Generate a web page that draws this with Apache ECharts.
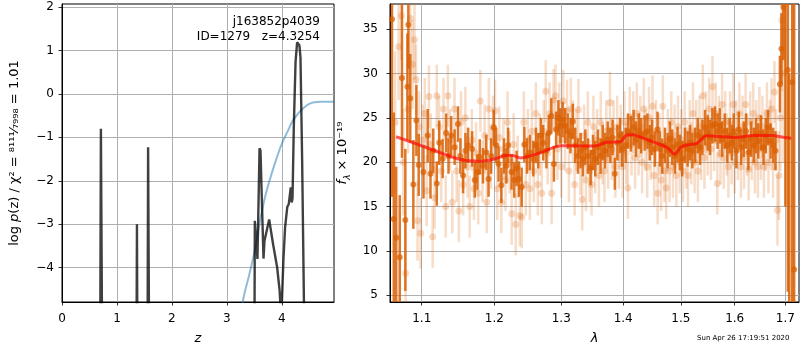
<!DOCTYPE html>
<html><head><meta charset="utf-8">
<script src="https://cdn.jsdelivr.net/npm/echarts@6/dist/echarts.min.js"></script>
<style>html,body{margin:0;padding:0;background:#fff}#c{width:800px;height:350px}</style>
</head><body><div id="c"></div>
<script>
// ---- tick labels ----
const zTicks = [0, 1, 2, 3, 4];
const logpTicks = [-4, -3, -2, -1, 0, 1, 2];
const lamTicks = [1.1, 1.2, 1.3, 1.4, 1.5, 1.6, 1.7];
const fluxTicks = [5, 10, 15, 20, 25, 30, 35];

// ---- left panel: log p(z) ----
const pzZ = [0, 0.69, 0.708, 0.722, 0.74, 1.35, 1.364, 1.378, 1.552, 1.567, 1.578, 1.594,
  3.497, 3.509, 3.52, 3.557, 3.595, 3.612, 3.667, 3.685, 3.71, 3.77, 3.84, 3.915, 3.96, 3.99, 4.03, 4.06, 4.10, 4.126,
  4.15, 4.164, 4.18, 4.195, 4.218, 4.25, 4.279, 4.30, 4.32, 4.34, 4.37, 4.41, 4.45, 4.95];
const pzLogP = [-8, -8, -0.8, -0.82, -8, -8, -3.0, -8, -8, -1.23, -1.25, -8,
  -8, -2.92, -2.95, -3.8, -1.25, -1.3, -3.79, -3.38, -3.35, -2.89, -3.45, -3.99, -4.52, -5.2, -3.8, -3.07, -2.6, -2.54,
  -2.55, -2.15, -2.5, -2.4, -0.79, 0.73, 1.19, 1.22, 1.12, 0.85, -1.5, -5.5, -8, -8];
const cumZ = [3.1, 3.2, 3.3, 3.4, 3.5, 3.6, 3.7, 3.8, 3.9, 4.0, 4.1, 4.2, 4.3, 4.4, 4.5, 4.6, 4.7, 4.8, 4.95];
const cumV = [-6.4, -5.55, -4.72, -4.2, -3.65, -2.95, -2.35, -1.9, -1.5, -1.15, -0.88, -0.62, -0.45, -0.32, -0.23, -0.19, -0.18, -0.18, -0.18];

// ---- right panel: spectrum ----
const modelLam = [1.0667, 1.10, 1.152, 1.179, 1.20, 1.218, 1.227, 1.2375, 1.267, 1.30, 1.319, 1.351, 1.373, 1.395, 1.406, 1.417, 1.428, 1.451, 1.475, 1.489, 1.50, 1.511, 1.529, 1.547, 1.572, 1.60, 1.636, 1.676, 1.689, 1.712];
const modelFlux = [22.87, 21.86, 20.3, 20.1, 20.37, 20.78, 20.75, 20.48, 21.04, 21.86, 21.85, 21.82, 22.24, 22.31, 23.06, 23.1, 22.87, 22.3, 21.68, 20.93, 21.7, 21.95, 22.13, 22.98, 22.9, 22.8, 23.0, 23.0, 22.87, 22.69];

const darkLam = [1.0615, 1.0638, 1.0669, 1.0714, 1.0743, 1.0786, 1.0813, 1.0825, 1.0850, 1.0890, 1.0930, 1.0960,
  1.1023, 1.1079, 1.1116, 1.1153, 1.1200, 1.1233, 1.1279, 1.1326, 1.1358, 1.1395, 1.1442, 1.1488, 1.1521, 1.1558,
  1.1591, 1.1628, 1.1684, 1.1721, 1.1758, 1.1791, 1.1837, 1.1884, 1.1916, 1.1953, 1.1991,
  1.2025, 1.2060, 1.2100, 1.2139, 1.2174, 1.2199, 1.2249, 1.2289, 1.2323, 1.2358, 1.2398, 1.2438, 1.2478, 1.2522,
  1.2572, 1.2612, 1.2647, 1.2687, 1.2721, 1.2771, 1.2806, 1.2846, 1.2886, 1.2920, 1.2955, 1.2985,
  1.3021, 1.3059, 1.3102, 1.3144, 1.3182, 1.3219, 1.3262, 1.3305, 1.3342, 1.3380, 1.3422, 1.3465, 1.3503, 1.3540,
  1.3583, 1.3626, 1.3663, 1.3701, 1.3743, 1.3786, 1.3824, 1.3861, 1.3904, 1.3947, 1.3984,
  1.4041, 1.4082, 1.4129, 1.4176, 1.4218, 1.4265, 1.4306, 1.4365, 1.4412, 1.4453, 1.4494, 1.4541, 1.4588, 1.4629,
  1.4671, 1.4718, 1.4765, 1.4806, 1.4847, 1.4894, 1.4941, 1.4982,
  1.5025, 1.5074, 1.5123, 1.5166, 1.5209, 1.5258, 1.5307, 1.5350, 1.5393, 1.5442, 1.5491, 1.5534, 1.5577, 1.5626,
  1.5675, 1.5718, 1.5761, 1.5810, 1.5859, 1.5902, 1.5945, 1.5982,
  1.6032, 1.6077, 1.6123, 1.6174, 1.6219, 1.6265, 1.6316, 1.6368, 1.6413, 1.6458, 1.6510, 1.6561, 1.6606, 1.6652,
  1.6703, 1.6755, 1.6800, 1.6890, 1.6920, 1.6960, 1.7000, 1.7050, 1.7080, 1.7140, 1.7180];
const darkFlux = [36.1, 13.6, 11.5, 9.3, 29.5, 13.5, 28.5, 35.5, 27.2, 17.5, 24.7, 19.7,
  18.9, 23.0, 18.7, 21.3, 17.6, 22.2, 20.4, 23.3, 20.7, 23.0, 21.7, 24.3, 20.7, 18.5,
  21.3, 21.9, 21.5, 18.0, 18.9, 20.6, 19.6, 21.1, 18.1, 20.7, 23.9,
  21.9, 19.8, 17.4, 20.7, 19.6, 21.9, 18.9, 18.0, 19.3, 18.1, 17.2, 22.0, 20.7, 21.1,
  20.4, 21.9, 21.3, 23.0, 22.2, 21.3, 23.3, 25.2, 19.8, 23.7, 25.0, 24.1,
  24.8, 24.1, 23.5, 23.0, 24.6, 21.9, 20.7, 21.3, 20.4, 21.7, 20.7, 19.4, 21.1, 20.4,
  21.7, 20.7, 22.2, 21.3, 22.6, 21.9, 22.8, 18.7, 22.2, 23.0, 21.5,
  21.9, 23.5, 23.2, 23.9, 22.6, 23.5, 23.0, 23.3, 23.5, 22.2, 22.8, 21.5, 23.7, 21.5,
  20.7, 21.9, 21.3, 22.6, 21.7, 20.7, 22.0, 21.1,
  20.4, 21.9, 21.5, 22.2, 21.3, 21.9, 23.0, 21.7, 22.8, 23.9, 23.3, 22.8, 24.1, 24.3,
  23.5, 24.1, 22.6, 23.5, 21.9, 23.0, 22.2, 23.5,
  21.3, 23.7, 21.7, 22.6, 23.5, 21.1, 22.6, 21.9, 23.0, 22.4, 23.3, 21.7, 23.0, 23.9,
  22.4, 21.9, 21.3, 28.8, 32.8, 37.5, 45.0, 30.4, -10.0, 29.0, 7.9];
const darkErr = [20, 12, 8, 7, 9, 8, 6, 5, 5, 5, 4, 3.5,
  3, 3, 2.8, 2.5, 2.5, 2.5, 2.2, 2.2, 2, 2.2, 2, 2, 2, 2,
  2, 2, 2, 2, 2, 2, 2, 2, 2, 2, 2,
  2, 2, 2, 2, 2, 2, 2, 2, 2, 2, 2.2, 2, 2, 2,
  2, 2, 2, 2, 2, 2, 2, 2, 2, 2, 2, 2,
  2, 2, 2, 2, 2, 2, 2, 2, 2, 2, 2, 2, 2, 2,
  2, 2, 2, 2, 2, 2, 2, 1.8, 2, 2, 2,
  2, 2, 2, 2, 2, 2, 2, 2, 2, 2, 2, 2, 2, 2,
  2, 2, 2, 2, 2, 2, 2, 2,
  2, 2, 2, 2, 2, 2, 2, 2, 2, 2, 2, 2, 2, 2,
  2, 2, 2, 2, 2, 2, 2, 2,
  2, 2, 2, 2, 2, 2, 2, 2, 2, 2, 2, 2, 2, 2,
  2, 2, 2.2, 3.2, 4, 6, 30, 25, 40, 40, 40];

const lightLam = [1.0655, 1.0700, 1.0735, 1.0760, 1.0790, 1.0820, 1.0850, 1.0880, 1.0905, 1.0925, 1.0945, 1.0965, 1.0985,
  1.1010, 1.1040, 1.1065, 1.1095, 1.1120, 1.1145, 1.1170, 1.1200, 1.1230, 1.1260, 1.1290, 1.1320, 1.1350, 1.1380,
  1.1410, 1.1440, 1.1470, 1.1500, 1.1530, 1.1560, 1.1590, 1.1620, 1.1650, 1.1680, 1.1710, 1.1740, 1.1770, 1.1800,
  1.1830, 1.1860, 1.1890, 1.1920, 1.1950, 1.1980,
  1.2010, 1.2040, 1.2070, 1.2100, 1.2130, 1.2160, 1.2190, 1.2220, 1.2250, 1.2280, 1.2310, 1.2340, 1.2370, 1.2400,
  1.2430, 1.2460, 1.2490, 1.2520, 1.2550, 1.2580, 1.2610, 1.2640, 1.2670, 1.2700, 1.2730, 1.2760, 1.2790, 1.2820,
  1.2850, 1.2880, 1.2910, 1.2940, 1.2970,
  1.3000, 1.3030, 1.3060, 1.3090, 1.3120, 1.3150, 1.3180, 1.3210, 1.3240, 1.3270, 1.3300, 1.3330, 1.3360, 1.3390,
  1.3420, 1.3450, 1.3480, 1.3510, 1.3540, 1.3570, 1.3600, 1.3630, 1.3660, 1.3690, 1.3720, 1.3750, 1.3780, 1.3810,
  1.3840, 1.3870, 1.3900, 1.3930, 1.3960, 1.3990,
  1.4020, 1.4050, 1.4080, 1.4110, 1.4140, 1.4170, 1.4200, 1.4230, 1.4260, 1.4290, 1.4320, 1.4350, 1.4380, 1.4410,
  1.4440, 1.4470, 1.4500, 1.4530, 1.4560, 1.4590, 1.4620, 1.4650, 1.4680, 1.4710, 1.4740, 1.4770, 1.4800, 1.4830,
  1.4860, 1.4890, 1.4920, 1.4950, 1.4980,
  1.5010, 1.5040, 1.5070, 1.5100, 1.5130, 1.5160, 1.5190, 1.5220, 1.5250, 1.5280, 1.5310, 1.5340, 1.5370, 1.5400,
  1.5430, 1.5460, 1.5490, 1.5520, 1.5550, 1.5580, 1.5610, 1.5640, 1.5670, 1.5700, 1.5730, 1.5760, 1.5790, 1.5820,
  1.5850, 1.5880, 1.5910, 1.5940, 1.5970,
  1.6000, 1.6030, 1.6060, 1.6090, 1.6120, 1.6150, 1.6180, 1.6210, 1.6240, 1.6270, 1.6300, 1.6330, 1.6360, 1.6390,
  1.6420, 1.6450, 1.6480, 1.6510, 1.6540, 1.6570, 1.6600, 1.6630, 1.6660, 1.6690, 1.6720, 1.6750, 1.6780, 1.6810,
  1.6840, 1.6870, 1.6900, 1.6930, 1.6960];
const lightFlux = [24.5, 33.0, 36.5, 20.0, 7.5, 26.0, 36.2, 31.0, 33.8, 29.3, 13.4, 24.0, 12.0,
  22.5, 25.5, 16.8, 27.4, 22.0, 11.6, 16.0, 27.5, 24.0, 19.0, 26.0, 15.0, 27.5, 22.5,
  15.5, 26.0, 19.0, 14.5, 24.5, 17.5, 25.0, 19.5, 15.0, 22.5, 17.0, 21.0, 16.5, 26.9,
  19.0, 23.0, 15.5, 26.0, 20.5, 24.0,
  25.8, 17.0, 22.8, 15.5, 21.5, 18.0, 24.5, 20.0, 14.2, 22.0, 13.0, 19.5, 14.0, 13.8,
  24.5, 17.5, 22.5, 17.0, 23.5, 19.0, 25.5, 17.5, 22.0, 16.5, 23.5, 28.0, 21.0, 25.5,
  16.5, 27.0, 27.5, 21.5, 25.5,
  19.5, 26.9, 22.5, 25.8, 19.0, 26.0, 23.5, 17.5, 22.5, 25.9, 19.8, 15.8, 23.0, 18.0,
  24.5, 19.0, 17.5, 24.0, 20.0, 22.5, 18.5, 24.5, 21.0, 19.0, 23.5, 20.5, 26.7, 21.5,
  23.5, 19.5, 24.0, 20.5, 23.0, 19.5,
  24.5, 21.0, 17.1, 25.0, 22.0, 24.5, 20.5, 25.5, 22.0, 24.0, 20.0, 26.0, 22.5, 19.5,
  25.0, 21.5, 26.3, 18.5, 23.5, 16.5, 22.0, 18.0, 26.3, 19.0, 17.1, 22.5, 19.0, 24.5,
  19.5, 23.0, 18.5, 24.0, 20.0,
  22.5, 19.0, 24.5, 20.5, 18.5, 23.5, 21.0, 25.5, 20.0, 23.5, 19.0, 24.0, 21.5, 27.5,
  20.5, 24.5, 22.0, 26.0, 21.5, 28.5, 22.5, 25.5, 17.6, 24.0, 21.0, 26.5, 20.5, 24.5,
  22.0, 19.5, 24.5, 21.0, 26.5,
  20.0, 23.5, 21.5, 25.5, 19.5, 24.0, 20.5, 26.5, 22.0, 19.2, 24.5, 21.5, 25.5, 20.0,
  23.5, 19.5, 25.0, 21.5, 24.0, 19.5, 22.5, 25.5, 20.0, 23.5, 26.0, 19.5, 27.9, 22.5,
  14.6, 18.5, 25.0, 36.0, 30.0];
const lightErr = [8, 6, 5, 6, 6, 5, 5, 5, 4.5, 4, 4.5, 4, 4,
  4, 4, 4, 3.5, 3.5, 3.5, 3.5, 3.5, 3.5, 3.5, 3.5, 3.5, 3.5, 3.5,
  3.5, 3.5, 3.5, 3.5, 3.5, 3.5, 3.5, 3.5, 3.5, 3.5, 3.5, 3.5, 3.5, 3.5,
  3.5, 3.5, 3.5, 3.5, 3.5, 3.5,
  3.5, 3.5, 3.5, 3.5, 3.5, 3.5, 3.5, 3.5, 3.5, 3.5, 3.5, 3.5, 3.5, 3.5,
  3.5, 3.5, 3.5, 3.5, 3.5, 3.5, 3.5, 3.5, 3.5, 3.5, 3.5, 3.5, 3.5, 3.5,
  3.5, 3.5, 3.5, 3.5, 3.5,
  3.5, 3.5, 3.5, 3.5, 3.5, 3.5, 3.5, 3.5, 3.5, 3.5, 3.5, 3.5, 3.5, 3.5,
  3.5, 3.5, 3.5, 3.5, 3.5, 3.5, 3.5, 3.5, 3.5, 3.5, 3.5, 3.5, 3.5, 3.5,
  3.5, 3.5, 3.5, 3.5, 3.5, 3.5,
  3.5, 3.5, 3.5, 3.5, 3.5, 3.5, 3.5, 3.5, 3.5, 3.5, 3.5, 3.5, 3.5, 3.5,
  3.5, 3.5, 3.5, 3.5, 3.5, 3.5, 3.5, 3.5, 3.5, 3.5, 3.5, 3.5, 3.5, 3.5,
  3.5, 3.5, 3.5, 3.5, 3.5,
  3.5, 3.5, 3.5, 3.5, 3.5, 3.5, 3.5, 3.5, 3.5, 3.5, 3.5, 3.5, 3.5, 3.5,
  3.5, 3.5, 3.5, 3.5, 3.5, 3.5, 3.5, 3.5, 3.5, 3.5, 3.5, 3.5, 3.5, 3.5,
  3.5, 3.5, 3.5, 3.5, 3.5,
  3.5, 3.5, 3.5, 3.5, 3.5, 3.5, 3.5, 3.5, 3.5, 3.5, 3.5, 3.5, 3.5, 3.5,
  3.5, 3.5, 3.5, 3.5, 3.5, 3.5, 3.5, 3.5, 3.5, 3.5, 3.5, 3.5, 3.5, 3.5,
  4, 5, 6, 8, 10];

// ---- axis ranges ----
const zRange = [0, 4.95];
const logpRange = [-4.79, 2.07];
const lamRange = [1.059, 1.728];
const fluxRange = [4.25, 37.83];

const FONT = 'DejaVu Sans';
const L = Math.log10;
const ORANGE = '217,95,2';
const minus = v => (v < 0 ? '\u2212' + Math.abs(v) : String(v));

function errBars(lam, flux, err, color, width, z) {
  return {
    type: 'custom', xAxisIndex: 1, yAxisIndex: 1, silent: true, z: z,
    data: lam.map((l, i) => [L(l), flux[i], err[i]]),
    renderItem: function (params, api) {
      const x = api.value(0), y = api.value(1), e = api.value(2);
      const lo = Math.max(y - e, fluxRange[0]), hi = Math.min(y + e, fluxRange[1]);
      if (lo >= hi) return null;
      const p1 = api.coord([x, lo]), p2 = api.coord([x, hi]);
      return { type: 'line', shape: { x1: p1[0], y1: p1[1], x2: p2[0], y2: p2[1] },
        style: { stroke: color, lineWidth: width } };
    }
  };
}

function ax(extra, ticks, fmt, margin) {
  return Object.assign({}, {
    axisLine: { show: true, onZero: false, lineStyle: { color: '#000', width: 1 } },
    axisTick: { show: true, inside: false, length: 3.5, lineStyle: { color: '#000', width: 0.8 }, customValues: ticks },
    axisLabel: { color: '#000', fontFamily: FONT, fontSize: 12, margin: margin, customValues: ticks, formatter: fmt },
    splitLine: { show: true, lineStyle: { color: '#b0b0b0', width: 1 } }
  }, extra);
}

const chart = echarts.init(document.getElementById('c'), null, { renderer: 'canvas' });
chart.setOption({
  animation: false,
  backgroundColor: '#fff',
  grid: [
    { left: 62, top: 4, width: 272, height: 300, show: true, borderColor: '#000', borderWidth: 1, backgroundColor: 'transparent' },
    { left: 390, top: 4, width: 409, height: 300, show: true, borderColor: '#000', borderWidth: 1, backgroundColor: 'transparent' }
  ],
  xAxis: [
    ax({ type: 'value', gridIndex: 0, min: zRange[0], max: zRange[1],
      name: 'z', nameLocation: 'middle', nameGap: 30,
      nameTextStyle: { fontFamily: FONT, fontSize: 13, fontStyle: 'italic', color: '#000' } },
      zTicks, v => String(v), 11),
    ax({ type: 'value', gridIndex: 1, min: L(lamRange[0]), max: L(lamRange[1]),
      name: 'λ', nameLocation: 'middle', nameGap: 30,
      nameTextStyle: { fontFamily: FONT, fontSize: 13, fontStyle: 'italic', color: '#000' } },
      lamTicks.map(L), v => Math.pow(10, v).toFixed(1), 11)
  ],
  yAxis: [
    ax({ type: 'value', gridIndex: 0, min: logpRange[0], max: logpRange[1],
      name: 'log {i|p}(z) / χ² = ⁸¹¹¹⁄₇₉₉₈ = 1.01', nameLocation: 'middle', nameGap: 41, nameRotate: 90,
      nameTextStyle: { fontFamily: FONT, fontSize: 13, color: '#000',
        rich: { i: { fontFamily: FONT, fontSize: 13, fontStyle: 'italic', color: '#000' } } } },
      logpTicks, minus, 8),
    ax({ type: 'value', gridIndex: 1, min: fluxRange[0], max: fluxRange[1],
      name: '{i|f}{s|λ} × 10⁻¹⁹', nameLocation: 'middle', nameGap: 33, nameRotate: 90,
      nameTextStyle: { fontFamily: FONT, fontSize: 13, color: '#000', lineHeight: 18,
        rich: { i: { fontFamily: FONT, fontSize: 13, fontStyle: 'italic', color: '#000', lineHeight: 18 },
                s: { fontFamily: FONT, fontSize: 9, fontStyle: 'italic', color: '#000', lineHeight: 18, verticalAlign: 'bottom' } } } },
      fluxTicks, v => String(v), 12)
  ],
  graphic: [
    { type: 'text', right: 480, top: 14, z: 100,
      style: { text: 'j163852p4039\nID=1279   z=4.3254', font: '12px "DejaVu Sans"', fill: '#000', textAlign: 'right', lineHeight: 15 } },
    { type: 'text', left: 697, top: 335, z: 100,
      style: { text: 'Sun Apr 26 17:19:51 2020', font: '7px "DejaVu Sans"', fill: '#000' } }
  ],
  series: [
    { type: 'line', xAxisIndex: 0, yAxisIndex: 0, data: cumZ.map((z, i) => [z, cumV[i]]), smooth: true,
      showSymbol: false, clip: true, lineStyle: { color: 'rgba(31,119,180,0.5)', width: 2 }, z: 3 },
    { type: 'line', xAxisIndex: 0, yAxisIndex: 0, data: pzZ.map((z, i) => [z, pzLogP[i]]),
      showSymbol: false, clip: true, lineStyle: { color: 'rgba(0,0,0,0.75)', width: 2.4 }, z: 4 },
    errBars(lightLam, lightFlux, lightErr, 'rgba(' + ORANGE + ',0.22)', 2.5, 2),
    { type: 'scatter', xAxisIndex: 1, yAxisIndex: 1, data: lightLam.map((l, i) => [L(l), lightFlux[i]]),
      symbolSize: 7, clip: true, itemStyle: { color: 'rgba(' + ORANGE + ',0.28)' }, z: 3 },
    errBars(darkLam, darkFlux, darkErr, 'rgba(' + ORANGE + ',0.85)', 2.5, 4),
    { type: 'scatter', xAxisIndex: 1, yAxisIndex: 1, data: darkLam.map((l, i) => [L(l), darkFlux[i]]),
      symbolSize: 6, clip: true, itemStyle: { color: 'rgba(' + ORANGE + ',0.9)' }, z: 5 },
    { type: 'line', xAxisIndex: 1, yAxisIndex: 1, data: modelLam.map((l, i) => [L(l), modelFlux[i]]), smooth: 0.3,
      showSymbol: false, clip: true, lineStyle: { color: 'rgba(255,0,0,0.65)', width: 3 }, z: 6 }
  ]
});
</script>
</body></html>
